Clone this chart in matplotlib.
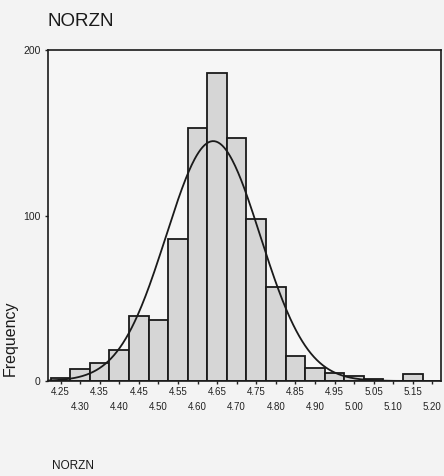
import numpy as np
import matplotlib
matplotlib.use("Agg")
import matplotlib.pyplot as plt

plt.rcParams['font.family'] = ['Liberation Sans', 'DejaVu Sans']

# Histogram data (bin centers, counts)
bin_centers = [4.25, 4.30, 4.35, 4.40, 4.45, 4.50, 4.55, 4.60, 4.65, 4.70,
               4.75, 4.80, 4.85, 4.90, 4.95, 5.00, 5.05, 5.10, 5.15, 5.20]
counts = [2, 7, 11, 19, 39, 37, 86, 153, 186, 147,
          98, 57, 15, 8, 5, 3, 1, 0, 4, 0]
bin_width = 0.05

# Fitted normal curve parameters
fit_mean = 4.64
fit_sd = 0.12
fit_n = 872

tick_labels = ["4.25", "4.30", "4.35", "4.40", "4.45", "4.50", "4.55", "4.60",
               "4.65", "4.70", "4.75", "4.80", "4.85", "4.90", "4.95", "5.00",
               "5.05", "5.10", "5.15", "5.20"]

W, H = 444, 476
fig = plt.figure(figsize=(W / 100, H / 100), dpi=100)
fig.patch.set_facecolor('#f3f3f3')
ax = fig.add_axes([48 / W, 1 - 381 / H, (441 - 48) / W, (381 - 50) / H])
ax.set_facecolor('#f6f6f6')

ax.bar(bin_centers, counts, width=bin_width, color='#d6d6d6',
       edgecolor='#1a1a1a', linewidth=1.3, zorder=2)

xs = np.linspace(4.218, 5.222, 400)
ys = fit_n * bin_width / (fit_sd * np.sqrt(2 * np.pi)) * np.exp(-0.5 * ((xs - fit_mean) / fit_sd) ** 2)
ax.plot(xs, ys, color='#1a1a1a', linewidth=1.3, zorder=3)

ax.set_xlim(4.218, 5.222)
ax.set_ylim(0, 200)

ax.set_xticks(bin_centers)
labels2 = [lab if i % 2 == 0 else "\n" + lab for i, lab in enumerate(tick_labels)]
ax.set_xticklabels(labels2, fontsize=7, color='#222222', linespacing=1.6)
ax.tick_params(axis='x', length=2.5, width=1, pad=2, color='#222222')
ax.set_yticks([0, 100, 200])
ax.set_yticklabels(["0", "100", "200"], fontsize=7.5, color='#222222')
ax.tick_params(axis='y', length=2.5, width=1, pad=3, color='#222222')

for s in ax.spines.values():
    s.set_color('#1a1a1a')
    s.set_linewidth(1.2)

fig.text(47 / W, 1 - 21 / H, "NORZN", fontsize=13.5, color='#1a1a1a', va='center', ha='left')
fig.text(52 / W, 1 - 466 / H, "NORZN", fontsize=8.5, color='#1a1a1a', va='center', ha='left')
fig.text(10 / W, 1 - 338 / H, "Frequency", fontsize=11.5, color='#1a1a1a', va='center', ha='center', rotation=90)

fig.savefig("out.png", dpi=100, facecolor=fig.get_facecolor())
